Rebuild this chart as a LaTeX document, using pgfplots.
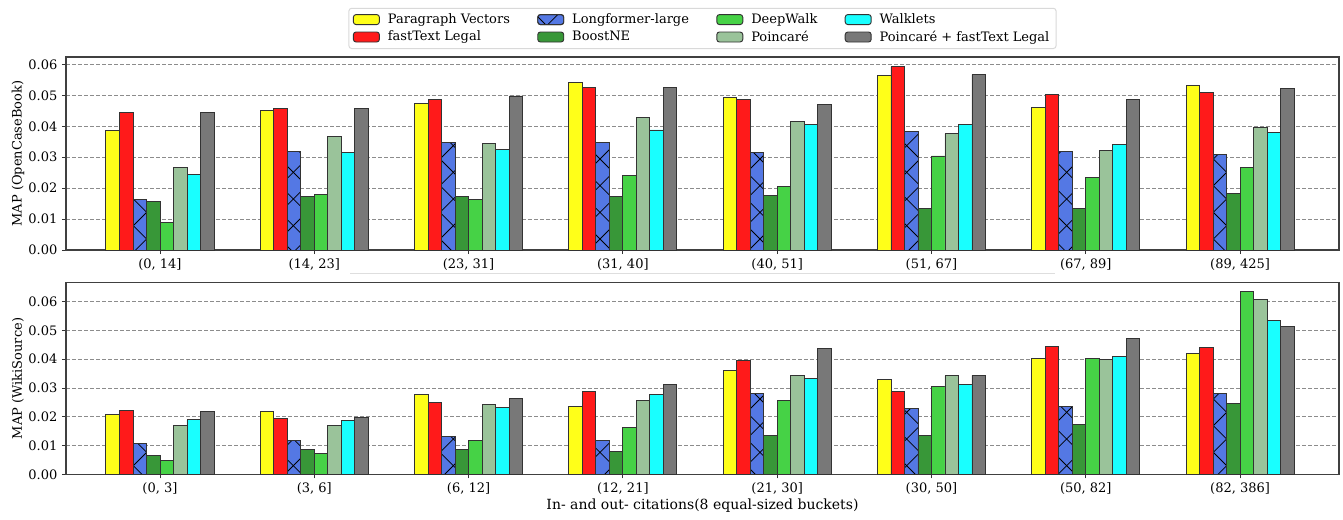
\documentclass[border=0pt]{standalone}
\usepackage{fontspec}
\setmainfont{DejaVu Serif}
\usepackage{pgfplots}
\usepackage{pgfplotstable}
\pgfplotsset{compat=1.18}
\usetikzlibrary{patterns.meta}

\definecolor{pvY}{RGB}{255,255,25}
\definecolor{ftR}{RGB}{255,26,26}
\definecolor{lfB}{RGB}{84,120,228}
\definecolor{bnG}{RGB}{56,151,56}
\definecolor{dwG}{RGB}{70,210,70}
\definecolor{pcG}{RGB}{154,195,154}
\definecolor{wkC}{RGB}{25,255,255}
\definecolor{pfG}{RGB}{120,120,120}

\tikzdeclarepattern{
  name=bigx,
  type=uncolored,
  bounding box={(-1pt,-1pt) and (21pt,21pt)},
  tile size={(20pt,20pt)},
  code={
    \draw[line width=0.6pt] (0pt,0pt) -- (20pt,20pt) (0pt,20pt) -- (20pt,0pt);
  }
}

% MAP per bucket, OpenCaseBook
\pgfplotstableread{
x pv ft lf bn dw pc wk pf
0 0.0386 0.0446 0.0163 0.0157 0.0089 0.0266 0.0243 0.0445
1 0.0450 0.0457 0.0320 0.0172 0.0180 0.0368 0.0315 0.0458
2 0.0475 0.0488 0.0348 0.0172 0.0164 0.0343 0.0325 0.0498
3 0.0543 0.0525 0.0348 0.0172 0.0240 0.0429 0.0388 0.0526
4 0.0492 0.0487 0.0315 0.0177 0.0206 0.0414 0.0406 0.0470
5 0.0563 0.0592 0.0383 0.0134 0.0304 0.0376 0.0405 0.0567
6 0.0460 0.0503 0.0318 0.0135 0.0236 0.0323 0.0341 0.0486
7 0.0531 0.0510 0.0309 0.0183 0.0266 0.0395 0.0379 0.0522
}\ocb

% MAP per bucket, WikiSource
\pgfplotstableread{
x pv ft lf bn dw pc wk pf
0 0.0209 0.0222 0.0108 0.0065 0.0047 0.0168 0.0189 0.0217
1 0.0217 0.0195 0.0119 0.0087 0.0071 0.0170 0.0186 0.0198
2 0.0278 0.0248 0.0132 0.0087 0.0118 0.0242 0.0231 0.0264
3 0.0234 0.0288 0.0117 0.0080 0.0162 0.0258 0.0278 0.0312
4 0.0360 0.0396 0.0281 0.0136 0.0258 0.0344 0.0332 0.0436
5 0.0330 0.0287 0.0229 0.0136 0.0305 0.0342 0.0312 0.0344
6 0.0402 0.0445 0.0234 0.0174 0.0403 0.0398 0.0411 0.0471
7 0.0419 0.0440 0.0280 0.0246 0.0634 0.0609 0.0533 0.0514
}\wks

\pgfplotsset{
  barsty/.style={ybar, bar width=0.0875, draw=black!80, line width=0.7pt,
    legend image code/.code={\draw[##1,/tikz/.cd] (0pt,-3.75pt) rectangle (19.5pt,3.75pt);}},
  panel/.style={
    scale only axis, width=954.75pt,
    xmin=-0.609, xmax=7.641, ymin=0,
    xtick={0,...,7}, ytick={0,0.01,...,0.06},
    xtick pos=bottom, ytick pos=left,
    tick align=outside, major tick length=3pt,
    tick style={black!80, line width=0.7pt},
    axis line style={black!75, line width=0.9pt},
    ymajorgrids, major grid style={dashed, black!45, line width=0.6pt, dash pattern=on 3pt off 1.5pt},
    /pgf/number format/assume math mode=true,
    yticklabel style={/pgf/number format/.cd, fixed, fixed zerofill, precision=2},
    scaled y ticks=false,
    ylabel style={at={(axis description cs:-0.0377,0.5)}, anchor=center},
  },
}

\newcommand{\allbars}[1]{%
  \addplot[barsty, fill=pvY, bar shift=-0.30625] table[x=x,y=pv]{#1};
  \addplot[barsty, fill=lfB, bar shift=-0.13125, postaction={pattern=bigx, pattern color=black}] table[x=x,y=lf]{#1};
  \addplot[barsty, fill=dwG, bar shift=0.04375] table[x=x,y=dw]{#1};
  \addplot[barsty, fill=wkC, bar shift=0.21875] table[x=x,y=wk]{#1};
  \addplot[barsty, fill=ftR, bar shift=-0.21875] table[x=x,y=ft]{#1};
  \addplot[barsty, fill=bnG, bar shift=-0.04375] table[x=x,y=bn]{#1};
  \addplot[barsty, fill=pcG, bar shift=0.13125] table[x=x,y=pc]{#1};
  \addplot[barsty, fill=pfG, bar shift=0.30625] table[x=x,y=pf]{#1};
}

\begin{document}
\fontsize{9.75}{11.7}\selectfont
\begin{tikzpicture}
\begin{axis}[panel, name=top, height=144.75pt, ymax=0.0624,
  ylabel={MAP (OpenCaseBook)},
  xticklabels={{(0, 14]},{(14, 23]},{(23, 31]},{(31, 40]},{(40, 51]},{(51, 67]},{(67, 89]},{(89, 425]}},
  legend columns=4,
  legend style={at={(axis description cs:0.5,1)}, anchor=south, yshift=6pt,
    draw=black!15, rounded corners=2pt, line width=0.75pt,
    inner xsep=3pt, inner ysep=2pt, row sep=0pt,
    cells={anchor=west},
    /tikz/every odd column/.append style={column sep=4pt},
    /tikz/every even column/.append style={column sep=18.5pt}},
]
\allbars{\ocb}
\legend{Paragraph Vectors, Longformer-large, DeepWalk, Walklets, fastText Legal, BoostNE, Poincaré, Poincaré + fastText Legal}
\end{axis}

\draw[black!13, line width=0.75pt] (213pt,-17.5pt) -- (741.75pt,-17.5pt);

\begin{axis}[panel, at={(0pt,-168.2pt)}, anchor=south west, height=143.7pt, ymax=0.0666,
  ylabel={MAP (WikiSource)},
  xlabel={In- and out- citations(8 equal-sized buckets)},
  xlabel style={at={(axis description cs:0.5,0)}, anchor=center, yshift=-23.8pt,
    font=\fontsize{10.5}{12.6}\selectfont},
  xticklabels={{(0, 3]},{(3, 6]},{(6, 12]},{(12, 21]},{(21, 30]},{(30, 50]},{(50, 82]},{(82, 386]}},
]
\allbars{\wks}
\end{axis}

\pgfresetboundingbox
\path[use as bounding box] (-49.5pt,-201.75pt) rectangle (957.75pt,187.5pt);
\end{tikzpicture}
\end{document}
